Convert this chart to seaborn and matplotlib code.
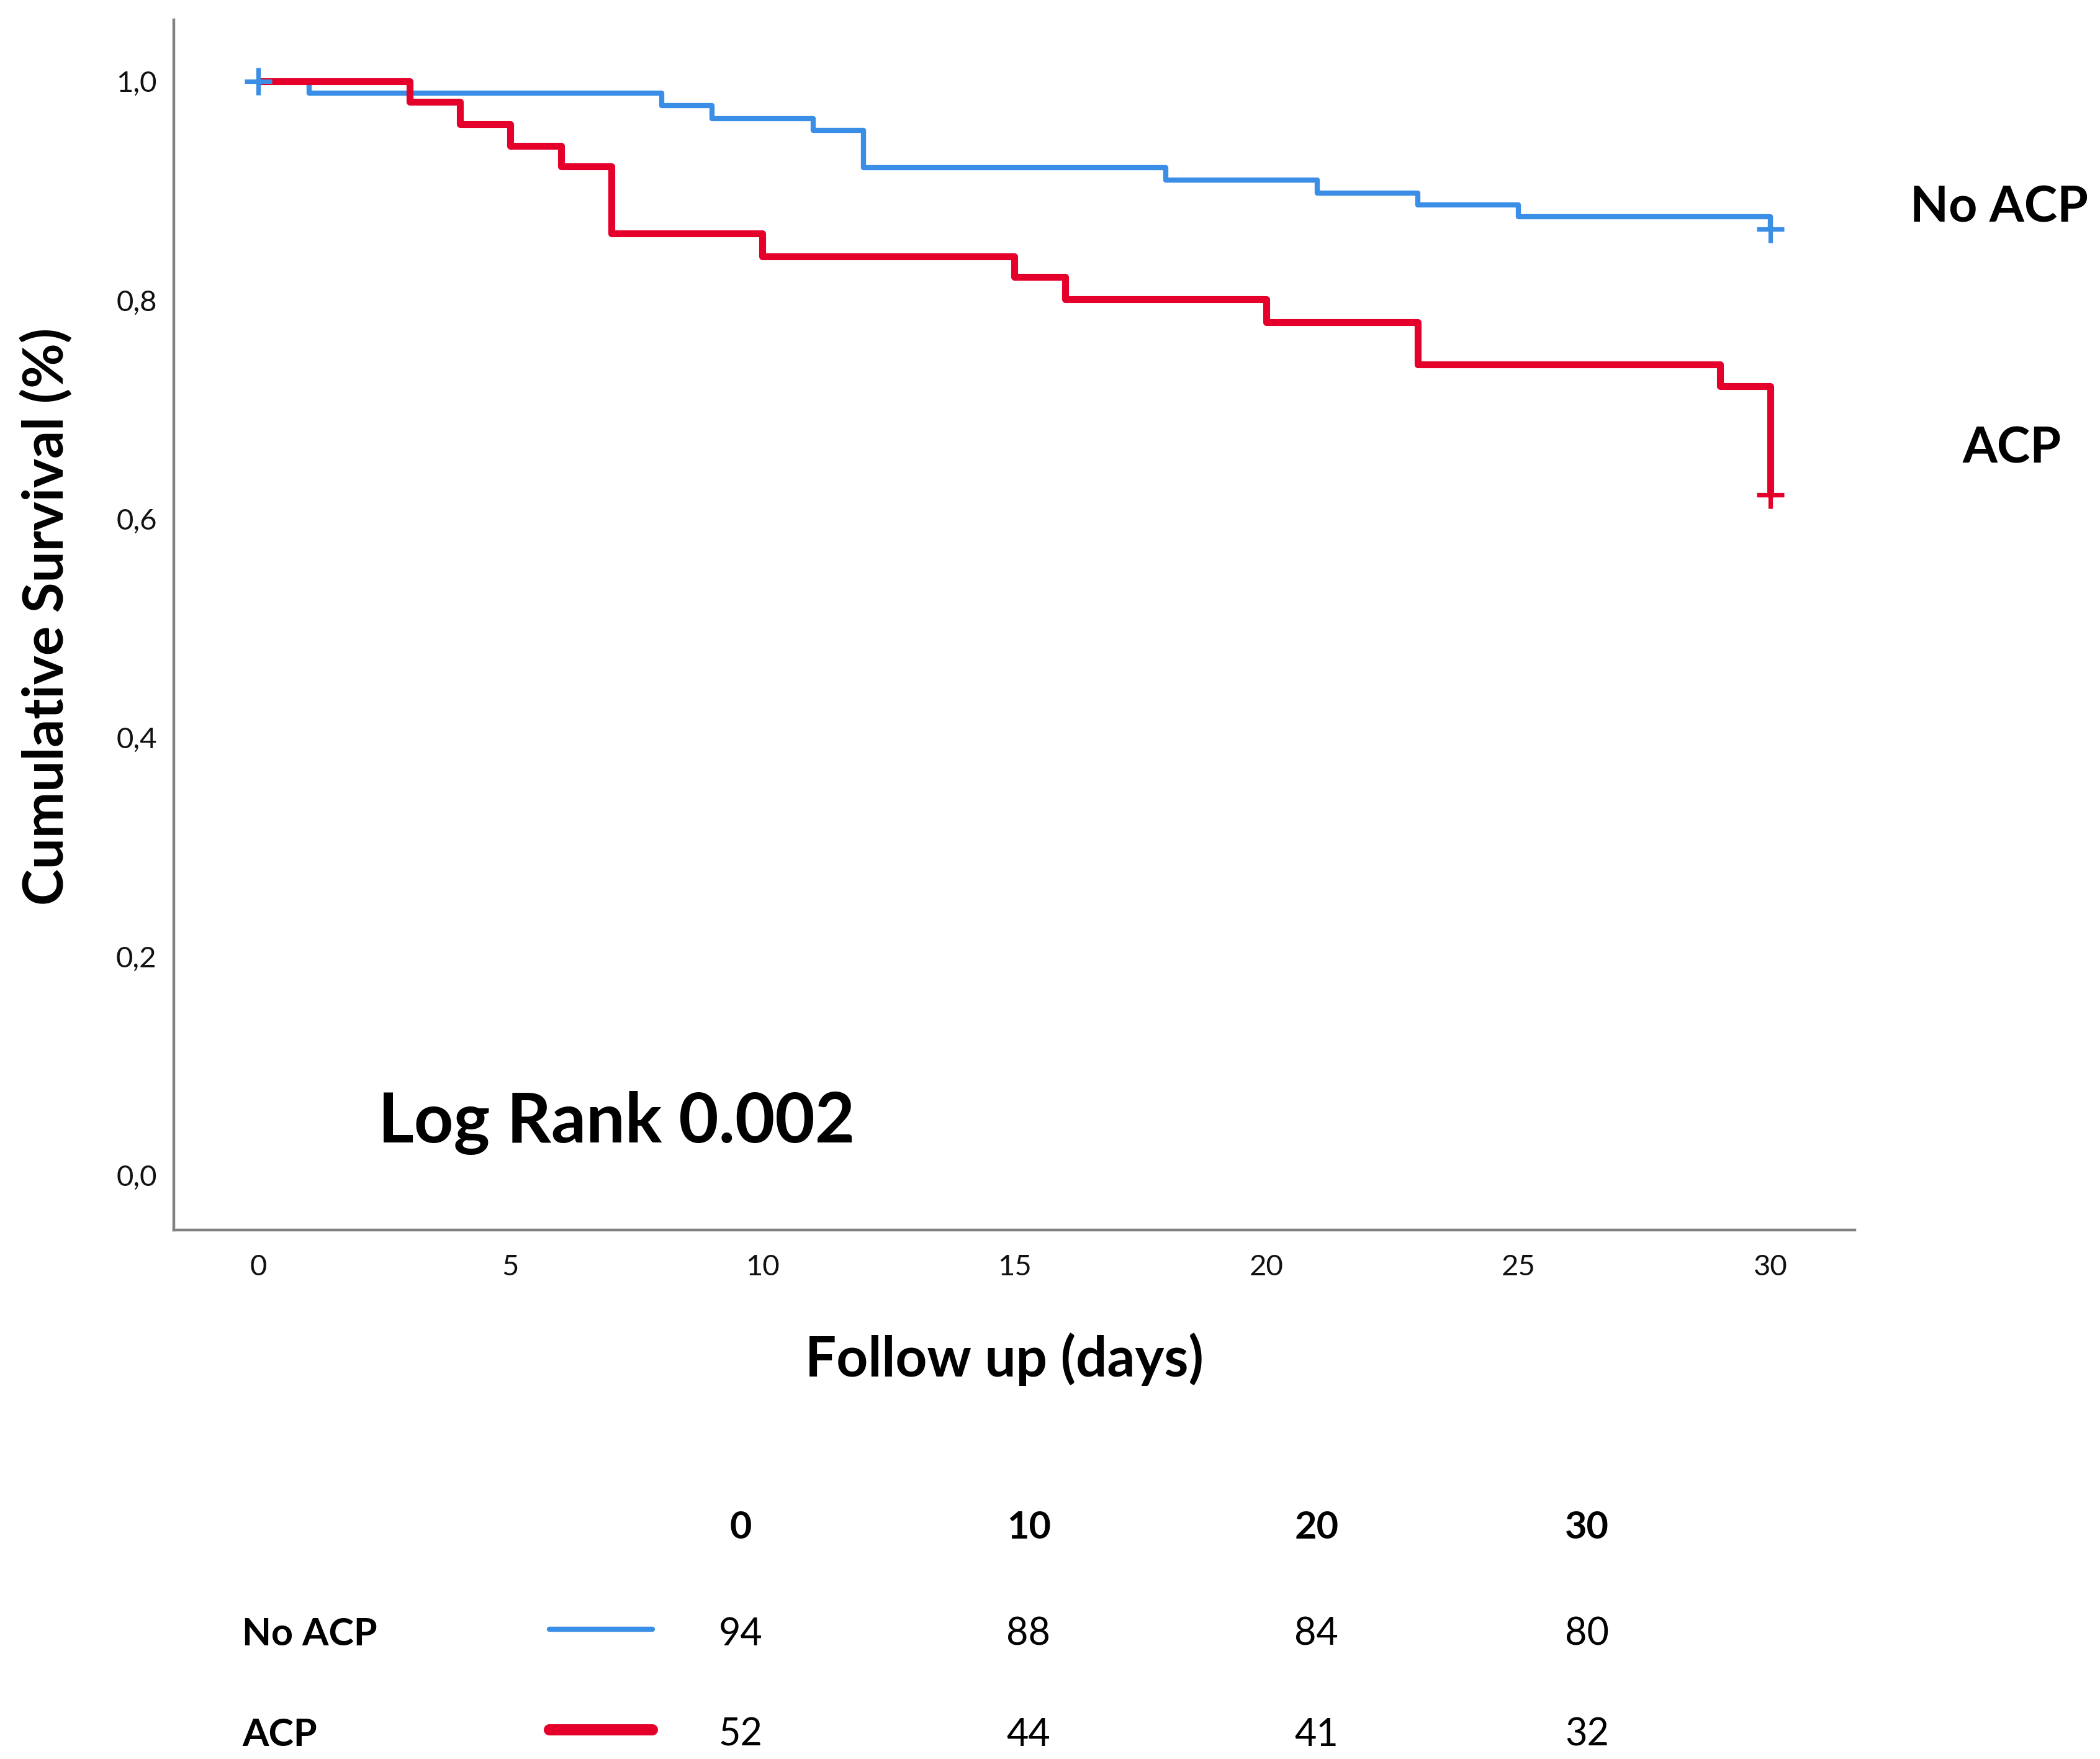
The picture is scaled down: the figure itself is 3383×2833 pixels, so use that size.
import numpy as np
import pandas as pd
import matplotlib.pyplot as plt
import seaborn as sns
from matplotlib.lines import Line2D

# valores (Kaplan-Meier)
no_acp_dias = [0, 1, 8, 9, 11, 12, 18, 21, 23, 25, 30]
no_acp_sobrev = [1.0, 0.989, 0.978, 0.966, 0.955, 0.921, 0.910, 0.898, 0.887, 0.876, 0.865]
acp_dias = [0, 3, 4, 5, 6, 7, 10, 15, 16, 20, 23, 29, 30]
acp_sobrev = [1.0, 0.981, 0.961, 0.941, 0.922, 0.861, 0.840, 0.821, 0.801, 0.780, 0.741, 0.721, 0.622]

# censuras
no_acp_cens_dias = [0, 30]
no_acp_cens_sobrev = [1.0, 0.865]
acp_cens_dias = [30]
acp_cens_sobrev = [0.622]

# tabela de risco
tempos_risco = ["0", "10", "20", "30"]
risco_no_acp = [94, 88, 84, 80]
risco_acp = [52, 44, 41, 32]
grupos = ["No ACP", "ACP"]

azul = "#3a8ee6"
vermelho = "#e4002b"

sns.set_style("white")
plt.rcParams['font.family'] = ['Lato', 'DejaVu Sans']
plt.rcParams['text.color'] = 'black'
plt.rcParams['axes.labelcolor'] = 'black'

fig = plt.figure(figsize=(16.915, 14.165), dpi=200)
ax = fig.add_axes([0.0829, 0.3008, 0.8004, 0.6878])

sns.lineplot(x=no_acp_dias, y=no_acp_sobrev, drawstyle='steps-post', estimator=None,
             sort=False, color=azul, linewidth=3.0, ax=ax)
sns.lineplot(x=acp_dias, y=acp_sobrev, drawstyle='steps-post', estimator=None,
             sort=False, color=vermelho, linewidth=4.0, ax=ax)
sns.scatterplot(x=no_acp_cens_dias, y=no_acp_cens_sobrev, marker='+', s=260,
                color=azul, linewidth=2.6, ax=ax, zorder=5)
sns.scatterplot(x=acp_cens_dias, y=acp_cens_sobrev, marker='+', s=260,
                color=vermelho, linewidth=2.6, ax=ax, zorder=5)

ax.set_xlim(-1.674, 31.674)
ax.set_ylim(-0.050, 1.056)
ax.set_xticks([0, 5, 10, 15, 20, 25, 30])
ax.set_yticks([0, 0.2, 0.4, 0.6, 0.8, 1.0])
ax.set_yticklabels(["0,0", "0,2", "0,4", "0,6", "0,8", "1,0"])
ax.tick_params(axis='both', length=0, labelsize=17, colors='#111111')
ax.tick_params(axis='x', pad=14)
ax.tick_params(axis='y', pad=10)

for lado in ['top', 'right']:
    ax.spines[lado].set_visible(False)
for lado in ['left', 'bottom']:
    ax.spines[lado].set_color('#808080')
    ax.spines[lado].set_linewidth(1.6)

ax.set_xlabel("Follow up (days)", fontsize=32, fontweight='bold')
ax.set_ylabel("Cumulative Survival (%)", fontsize=32, fontweight='bold')
ax.xaxis.set_label_coords(0.494, -0.107)
ax.yaxis.set_label_coords(-0.0757, 0.507)
ax.xaxis.label.set_verticalalignment('center')
ax.yaxis.label.set_verticalalignment('center')

ax.text(7.1, 0.048, "Log Rank 0.002", fontsize=40, fontweight='bold',
        ha='center', va='center')

fig.text(0.952, 0.882, "No ACP", fontsize=29, fontweight='bold', ha='center', va='center')
fig.text(0.958, 0.745, "ACP", fontsize=29, fontweight='bold', ha='center', va='center')

# tabela de pacientes em risco
col_x = [0.3527, 0.4898, 0.6269, 0.7557]
lin_y = [0.0708, 0.0137]
for cx, t in zip(col_x, tempos_risco):
    fig.text(cx, 0.1318, t, fontsize=22, fontweight='bold', ha='center', va='center')

cores = [azul, vermelho]
larguras = [3.0, 6.5]
for gy, nome, valores, cor, lw in zip(lin_y, grupos, [risco_no_acp, risco_acp], cores, larguras):
    fig.text(0.1154, gy, nome, fontsize=22, fontweight='bold', ha='left', va='center')
    fig.add_artist(Line2D([0.2615, 0.3106], [gy + 0.003, gy + 0.003], color=cor,
                          linewidth=lw, transform=fig.transFigure))
    for cx, v in zip(col_x, valores):
        fig.text(cx, gy, str(v), fontsize=22, ha='center', va='center')

fig.savefig("out.png", dpi=200)
